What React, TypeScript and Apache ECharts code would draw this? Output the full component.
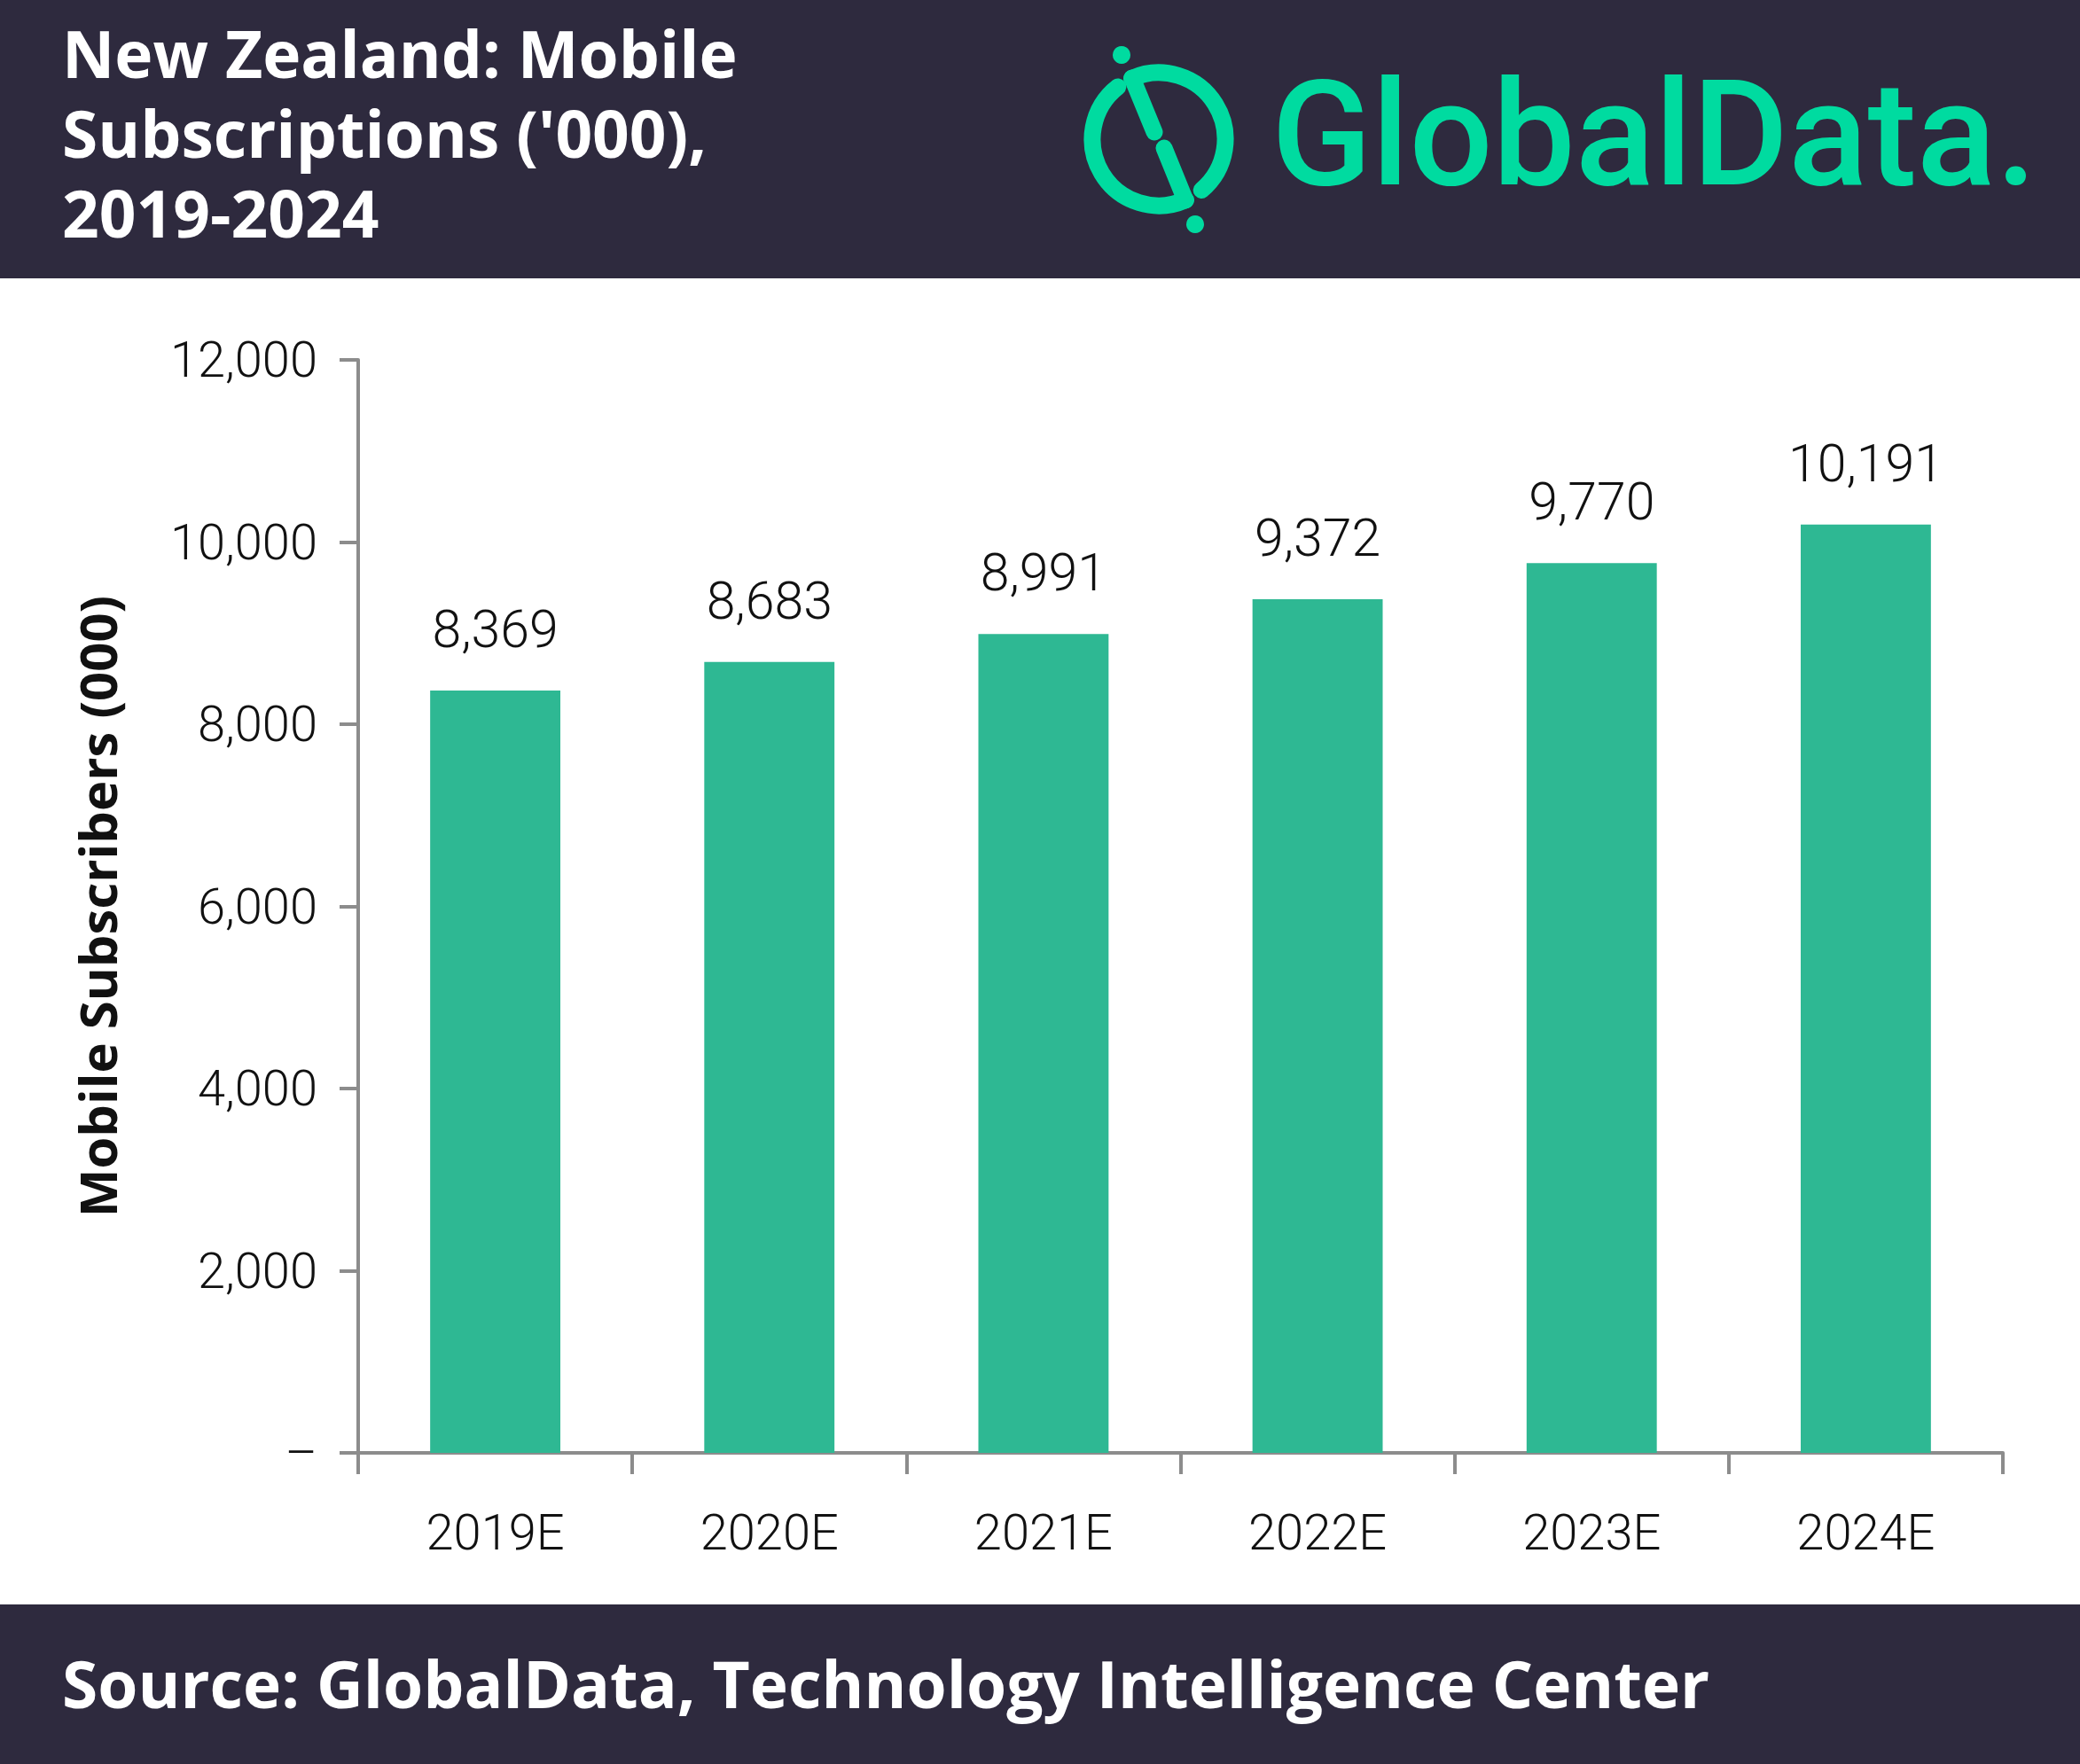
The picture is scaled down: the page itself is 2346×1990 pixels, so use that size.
import { useRef, useEffect } from 'react'
import * as echarts from 'echarts'

const categories = ['2019E', '2020E', '2021E', '2022E', '2023E', '2024E']
const subscribers = [8369, 8683, 8991, 9372, 9770, 10191]
const yMin = 0
const yMax = 12000
const yStep = 2000

const titleLines = ['New Zealand: Mobile', "Subscriptions ('000),", '2019-2024']
const sourceText = 'Source: GlobalData, Technology Intelligence Center'
const yAxisTitle = 'Mobile Subscribers (000)'

const W = 2346
const H = 1990
const dark = '#2e2a3e'
const brand = '#00dba0'
const barColor = '#2eb893'
const axisGrey = '#8c8c8c'
const font = 'Roboto, "Noto Sans", sans-serif'
const boldFont = '"Open Sans", Roboto, sans-serif'

const fmt = (v: number) => (v === 0 ? '–' : v.toLocaleString('en-US'))
const rad = (d: number) => (d * Math.PI) / 180

function logo() {
  const cx = 1307
  const cy = 157
  const r = 75
  const ring = { stroke: brand, lineWidth: 19, fill: 'none', lineCap: 'round' as const }
  return [
    { type: 'arc', shape: { cx, cy, r, startAngle: rad(-114), endAngle: rad(50), clockwise: true }, style: ring },
    { type: 'arc', shape: { cx, cy, r, startAngle: rad(66), endAngle: rad(232), clockwise: true }, style: ring },
    { type: 'line', shape: { x1: 1277, y1: 88, x2: 1302, y2: 149 }, style: { stroke: brand, lineWidth: 19, lineCap: 'round' } },
    { type: 'line', shape: { x1: 1313, y1: 167, x2: 1337, y2: 226 }, style: { stroke: brand, lineWidth: 19, lineCap: 'round' } },
    { type: 'circle', shape: { cx: 1265, cy: 62, r: 10 }, style: { fill: brand } },
    { type: 'circle', shape: { cx: 1348, cy: 253, r: 10 }, style: { fill: brand } },
    {
      type: 'text',
      x: 1434,
      y: 151,
      style: { text: 'GlobalData.', fill: brand, font: `500 166px ${font}`, verticalAlign: 'middle' },
    },
  ]
}

export default function App() {
  const ref = useRef<HTMLDivElement>(null)

  useEffect(() => {
    document.body.style.margin = '0'
    if (!ref.current) return
    const chart = echarts.init(ref.current, undefined, { renderer: 'svg' })

    const titleTexts = titleLines.map((line, i) => ({
      type: 'text',
      x: 70,
      y: 59 + i * 90,
      style: { text: line, fill: '#fff', font: `bold 73px ${boldFont}`, verticalAlign: 'middle' },
    }))

    chart.setOption({
      animation: false,
      backgroundColor: '#ffffff',
      textStyle: { fontFamily: font },
      grid: { left: 404, right: 87, top: 406, bottom: H - 1639 },
      xAxis: {
        type: 'category',
        data: categories,
        axisLine: { show: true, lineStyle: { color: axisGrey, width: 4 } },
        axisTick: { show: true, length: 24, lineStyle: { color: axisGrey, width: 4 } },
        axisLabel: { color: '#111', fontSize: 56, fontWeight: 300, margin: 62 },
      },
      yAxis: {
        type: 'value',
        min: yMin,
        max: yMax,
        interval: yStep,
        name: yAxisTitle,
        nameLocation: 'middle',
        nameGap: 266,
        nameTextStyle: { color: '#111', fontSize: 58, fontWeight: 'bold', fontFamily: boldFont },
        axisLine: { show: true, lineStyle: { color: axisGrey, width: 4 } },
        axisTick: { show: true, length: 21, lineStyle: { color: axisGrey, width: 4 } },
        splitLine: { show: false },
        axisLabel: { color: '#111', fontSize: 56, fontWeight: 300, margin: 46, formatter: fmt },
      },
      series: [
        {
          type: 'bar',
          data: subscribers,
          barWidth: '47.5%',
          itemStyle: { color: barColor },
          label: {
            show: true,
            position: 'top',
            distance: 40,
            color: '#111',
            fontSize: 59,
            fontWeight: 300,
            formatter: (p: any) => fmt(p.value),
          },
        },
      ],
      graphic: [
        { type: 'rect', shape: { x: 0, y: 0, width: W, height: 314 }, style: { fill: dark }, z: -1 },
        { type: 'rect', shape: { x: 0, y: 1810, width: W, height: H - 1810 }, style: { fill: dark }, z: -1 },
        ...titleTexts,
        {
          type: 'text',
          x: 70,
          y: 1898,
          style: { text: sourceText, fill: '#fff', font: `bold 73px ${boldFont}`, verticalAlign: 'middle' },
        },
        ...logo(),
      ],
    })

    return () => chart.dispose()
  }, [])

  return <div ref={ref} style={{ width: W, height: H }} />
}
